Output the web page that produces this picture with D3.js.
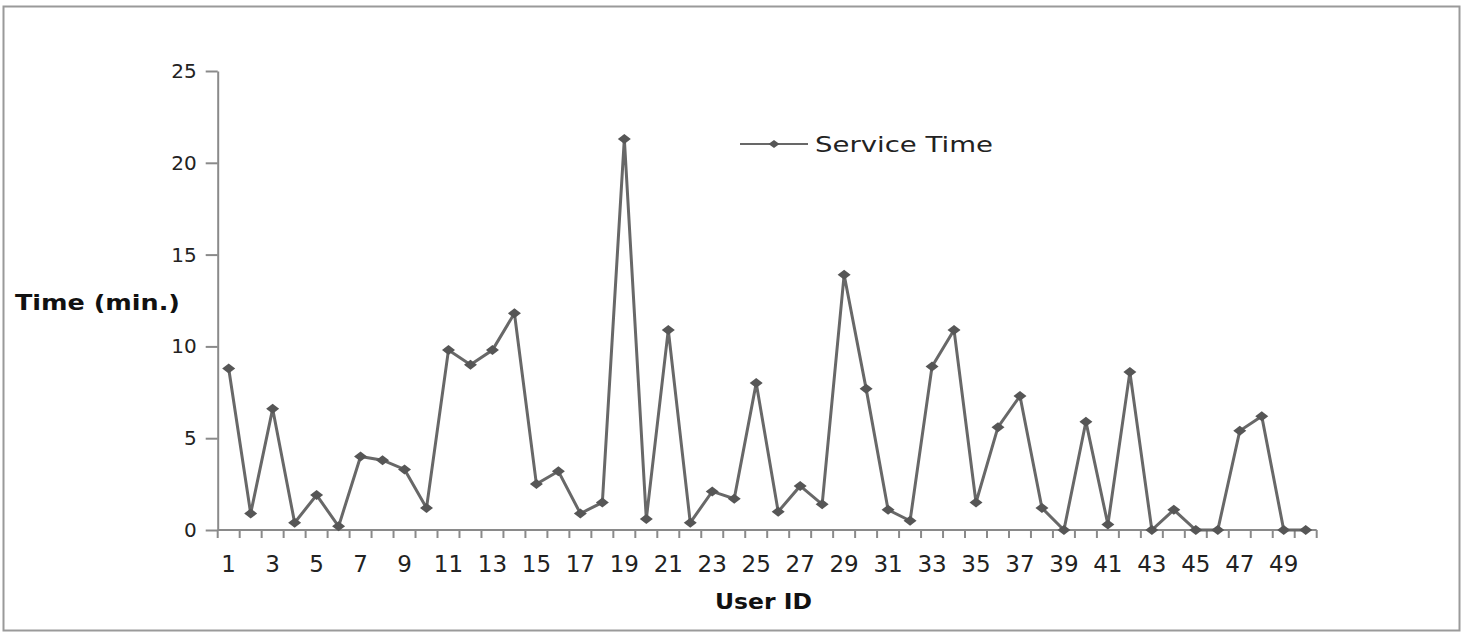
<!DOCTYPE html>
<html>
<head>
<meta charset="utf-8">
<script src="https://cdn.jsdelivr.net/npm/d3@7"></script>
<style>
  html, body { margin: 0; padding: 0; background: #fff; }
  svg { display: block; }
</style>
</head>
<body>
<div id="chart"></div>
<script>
// user ids 1..50
const userIds = d3.range(1, 51);
// service time (min.)
const serviceTime = [
  8.8, 0.9, 6.6, 0.4, 1.9, 0.2, 4.0, 3.8, 3.3, 1.2,
  9.8, 9.0, 9.8, 11.8, 2.5, 3.2, 0.9, 1.5, 21.3, 0.6,
  10.9, 0.4, 2.1, 1.7, 8.0, 1.0, 2.4, 1.4, 13.9, 7.7,
  1.1, 0.5, 8.9, 10.9, 1.5, 5.6, 7.3, 1.2, 0.0, 5.9,
  0.3, 8.6, 0.0, 1.1, 0.0, 0.0, 5.4, 6.2, 0.0, 0.0
];
const yTicks = [0, 5, 10, 15, 20, 25];
const xLabelIds = userIds.filter(d => d % 2 === 1);

const W = 1466, H = 632;
const plot = { left: 217.7, right: 1316.7, top: 71, bottom: 530 };
const lineColor = '#686868';
const markColor = '#565656';
const axisColor = '#8a8a8a';
const font = '"DejaVu Sans", Verdana, sans-serif';

const svg = d3.select('#chart').append('svg')
  .attr('width', W).attr('height', H)
  .style('font-family', font);

// outer frame
svg.append('rect')
  .attr('x', 3.5).attr('y', 6.5)
  .attr('width', 1456).attr('height', 624)
  .attr('fill', '#fff')
  .attr('stroke', '#9a9a9a')
  .attr('stroke-width', 2);

const x = d3.scaleBand()
  .domain(userIds)
  .range([plot.left, plot.right])
  .paddingInner(0).paddingOuter(0);

const y = d3.scaleLinear()
  .domain([0, 25])
  .range([plot.bottom, plot.top]);

const cx = d => x(d) + x.bandwidth() / 2;

// y axis
const yAxis = svg.append('g')
  .attr('transform', `translate(${plot.left},0)`)
  .call(d3.axisLeft(y).tickValues(yTicks).tickSize(12).tickPadding(9).tickSizeOuter(0));
yAxis.select('.domain').attr('stroke', axisColor).attr('stroke-width', 2);
yAxis.selectAll('.tick line').attr('stroke', axisColor).attr('stroke-width', 2);
yAxis.selectAll('.tick text')
  .attr('font-size', 20)
  .attr('font-family', font)
  .attr('fill', '#222');

// x axis line
svg.append('line')
  .attr('x1', plot.left).attr('x2', plot.right)
  .attr('y1', y(0)).attr('y2', y(0))
  .attr('stroke', axisColor).attr('stroke-width', 2);

// category boundary ticks
const boundaries = userIds.map(d => x(d)).concat([plot.right]);
svg.append('g').selectAll('line')
  .data(boundaries)
  .join('line')
  .attr('x1', d => d).attr('x2', d => d)
  .attr('y1', y(0)).attr('y2', y(0) + 8)
  .attr('stroke', axisColor).attr('stroke-width', 2);

// x labels on odd ids
svg.append('g').selectAll('text')
  .data(xLabelIds)
  .join('text')
  .attr('x', d => cx(d))
  .attr('y', 572)
  .attr('text-anchor', 'middle')
  .attr('font-size', 23)
  .attr('fill', '#222')
  .text(d => d);

// axis titles
svg.append('text')
  .attr('x', 15).attr('y', 310)
  .attr('font-size', 21)
  .attr('font-weight', 'bold')
  .attr('fill', '#111')
  .attr('textLength', 165)
  .attr('lengthAdjust', 'spacingAndGlyphs')
  .text('Time (min.)');

svg.append('text')
  .attr('x', 715).attr('y', 609)
  .attr('font-size', 22)
  .attr('font-weight', 'bold')
  .attr('fill', '#111')
  .attr('textLength', 97)
  .attr('lengthAdjust', 'spacingAndGlyphs')
  .text('User ID');

// series line
const line = d3.line()
  .x((d, i) => cx(userIds[i]))
  .y(d => y(d));

svg.append('path')
  .datum(serviceTime)
  .attr('d', line)
  .attr('fill', 'none')
  .attr('stroke', lineColor)
  .attr('stroke-width', 3)
  .attr('stroke-linejoin', 'miter');

// flattened diamond marker
const diamond = (w, h) => `M${-w / 2},0L0,${-h / 2}L${w / 2},0L0,${h / 2}Z`;

svg.append('g').selectAll('path')
  .data(serviceTime)
  .join('path')
  .attr('transform', (d, i) => `translate(${cx(userIds[i])},${y(d)})`)
  .attr('d', diamond(13, 10))
  .attr('fill', markColor);

// legend
const lg = svg.append('g').attr('transform', 'translate(740,144)');
lg.append('line')
  .attr('x1', 0).attr('x2', 68)
  .attr('y1', 0).attr('y2', 0)
  .attr('stroke', lineColor).attr('stroke-width', 2);
lg.append('path')
  .attr('transform', 'translate(34,0)')
  .attr('d', diamond(11, 8))
  .attr('fill', markColor);
lg.append('text')
  .attr('x', 75).attr('y', 8)
  .attr('font-size', 22)
  .attr('fill', '#222')
  .attr('textLength', 178)
  .attr('lengthAdjust', 'spacingAndGlyphs')
  .text('Service Time');
</script>
</body>
</html>
